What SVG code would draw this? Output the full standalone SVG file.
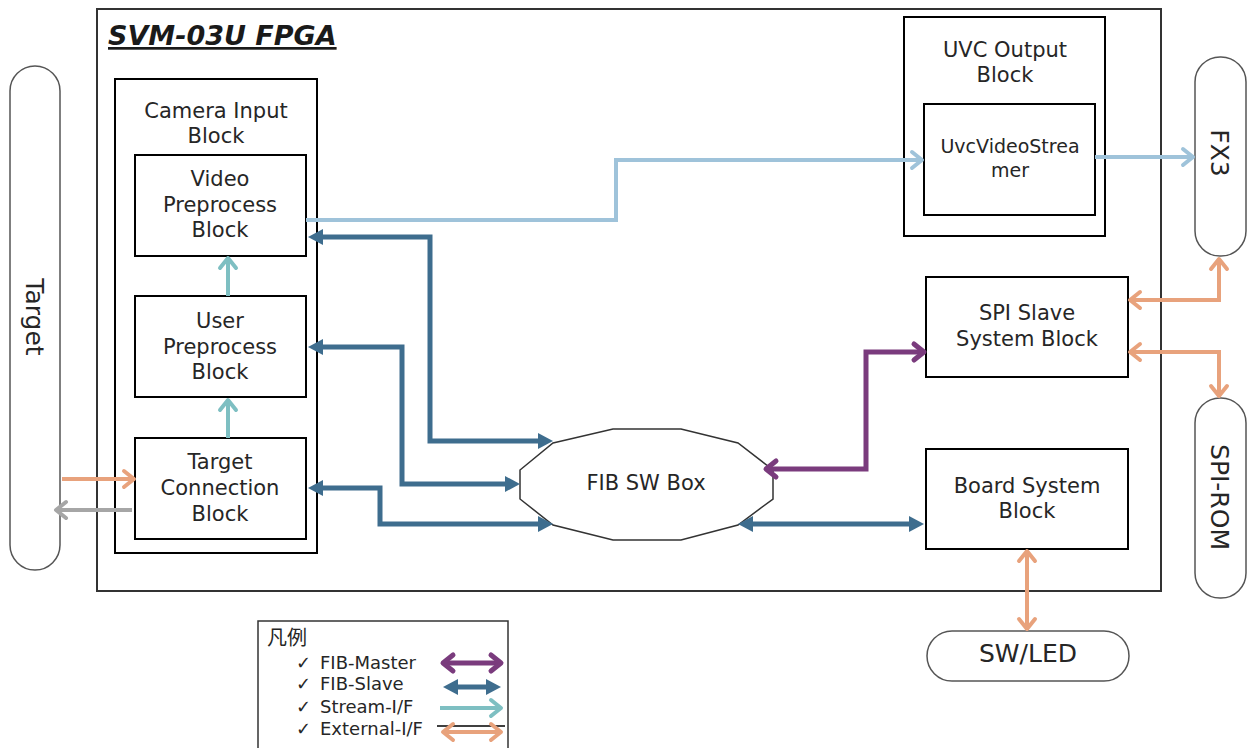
<svg xmlns="http://www.w3.org/2000/svg" width="1250" height="748" viewBox="0 0 1250 748">
  <style>
    .t { font-family: "DejaVu Sans", Verdana, sans-serif; fill: #262626; text-anchor: middle; }
    .b21 { font-size: 21px; }
    .b19 { font-size: 19px; }
    .ext { font-size: 25px; }
    .leg { font-family: "DejaVu Sans", "Noto Sans CJK JP", sans-serif; fill: #262626; font-size: 18px; }
    .legtitle { font-family: "Noto Sans CJK JP", sans-serif; fill: #262626; font-size: 20px; }
    .blk { fill: #fff; stroke: #000; stroke-width: 2; }
    .pill { fill: #fff; stroke: #555; stroke-width: 1.5; }
    .c { fill: none; stroke-linejoin: miter; }
    .slave { stroke: #3e6d8e; stroke-width: 5; marker-start: url(#tri-slave); marker-end: url(#tri-slave); }
    .master { stroke: #7a3b7d; stroke-width: 5; marker-start: url(#chev-master); marker-end: url(#chev-master); }
    .stream { stroke: #7ebfc2; stroke-width: 4; marker-end: url(#chev-stream); }
    .uvc { stroke: #9fc3da; stroke-width: 4; marker-end: url(#chev-uvc); }
    .ext2 { stroke: #e8a27c; stroke-width: 4; marker-start: url(#chev-ext); marker-end: url(#chev-ext); }
    .ext1 { stroke: #e8a27c; stroke-width: 4; marker-end: url(#chev-ext); }
    .gray { stroke: #a6a6a6; stroke-width: 4; marker-end: url(#chev-gray); }
  </style>
  <defs>
    <marker id="tri-slave" viewBox="-8 -9 18 18" refX="0" refY="0" markerWidth="18" markerHeight="18" markerUnits="userSpaceOnUse" orient="auto-start-reverse" overflow="visible">
      <path d="M-7,-8 L8,0 L-7,8 z" fill="#3e6d8e"/>
    </marker>
    <marker id="chev-master" viewBox="-14 -10 16 20" refX="0" refY="0" markerWidth="16" markerHeight="20" markerUnits="userSpaceOnUse" orient="auto-start-reverse" overflow="visible">
      <path d="M-10,-8 L0,0 L-10,8" fill="none" stroke="#7a3b7d" stroke-width="5" stroke-linecap="round" stroke-linejoin="round"/>
    </marker>
    <marker id="chev-stream" viewBox="-14 -10 16 20" refX="0" refY="0" markerWidth="16" markerHeight="20" markerUnits="userSpaceOnUse" orient="auto-start-reverse" overflow="visible">
      <path d="M-10,-8 L0,0 L-10,8" fill="none" stroke="#7ebfc2" stroke-width="4" stroke-linecap="round" stroke-linejoin="round"/>
    </marker>
    <marker id="chev-uvc" viewBox="-14 -10 16 20" refX="0" refY="0" markerWidth="16" markerHeight="20" markerUnits="userSpaceOnUse" orient="auto-start-reverse" overflow="visible">
      <path d="M-10,-8 L0,0 L-10,8" fill="none" stroke="#9fc3da" stroke-width="4" stroke-linecap="round" stroke-linejoin="round"/>
    </marker>
    <marker id="chev-ext" viewBox="-14 -10 16 20" refX="0" refY="0" markerWidth="16" markerHeight="20" markerUnits="userSpaceOnUse" orient="auto-start-reverse" overflow="visible">
      <path d="M-10,-8 L0,0 L-10,8" fill="none" stroke="#e8a27c" stroke-width="4" stroke-linecap="round" stroke-linejoin="round"/>
    </marker>
    <marker id="chev-gray" viewBox="-14 -10 16 20" refX="0" refY="0" markerWidth="16" markerHeight="20" markerUnits="userSpaceOnUse" orient="auto-start-reverse" overflow="visible">
      <path d="M-10,-8 L0,0 L-10,8" fill="none" stroke="#a6a6a6" stroke-width="4" stroke-linecap="round" stroke-linejoin="round"/>
    </marker>
  </defs>

  <rect width="1250" height="748" fill="#fff"/>

  <!-- FPGA boundary -->
  <g id="fpga">
    <rect x="97" y="9" width="1064" height="582" fill="#fff" stroke="#333" stroke-width="2"/>
    <text x="108" y="45" font-family="DejaVu Sans, Verdana, sans-serif" font-size="27" font-weight="bold" font-style="italic" fill="#1a1a1a" text-decoration="underline">SVM-03U FPGA</text>
  </g>

  <!-- external devices -->
  <g id="target">
    <rect class="pill" x="10" y="66" width="50" height="504" rx="25"/>
    <text class="t ext" transform="translate(35,317) rotate(90)" y="9">Target</text>
  </g>
  <g id="fx3">
    <rect class="pill" x="1195" y="57" width="51" height="199" rx="25"/>
    <text class="t ext" transform="translate(1220,153) rotate(90)" y="9">FX3</text>
  </g>
  <g id="spi-rom">
    <rect class="pill" x="1195" y="398" width="51" height="200" rx="25"/>
    <text class="t ext" transform="translate(1220,497) rotate(90)" y="9">SPI-ROM</text>
  </g>
  <g id="sw-led">
    <rect class="pill" x="927" y="631" width="202" height="50" rx="25"/>
    <text class="t ext" x="1028" y="662">SW/LED</text>
  </g>

  <!-- camera input -->
  <g id="camera-input">
    <rect class="blk" x="115" y="79" width="202" height="474"/>
    <text class="t b21" x="216" y="118">Camera Input</text>
    <text class="t b21" x="216" y="143">Block</text>
  </g>
  <g id="video-preprocess">
    <rect class="blk" x="135" y="155" width="171" height="101"/>
    <text class="t b21" x="220" y="186">Video</text>
    <text class="t b21" x="220" y="212">Preprocess</text>
    <text class="t b21" x="220" y="237">Block</text>
  </g>
  <g id="user-preprocess">
    <rect class="blk" x="135" y="296" width="171" height="101"/>
    <text class="t b21" x="220" y="328">User</text>
    <text class="t b21" x="220" y="354">Preprocess</text>
    <text class="t b21" x="220" y="379">Block</text>
  </g>
  <g id="target-connection">
    <rect class="blk" x="135" y="438" width="171" height="101"/>
    <text class="t b21" x="220" y="469">Target</text>
    <text class="t b21" x="220" y="495">Connection</text>
    <text class="t b21" x="220" y="521">Block</text>
  </g>

  <!-- UVC output -->
  <g id="uvc-output">
    <rect class="blk" x="904" y="17" width="201" height="219"/>
    <text class="t b21" x="1005" y="57">UVC Output</text>
    <text class="t b21" x="1005" y="82">Block</text>
  </g>
  <g id="uvc-video-streamer">
    <rect class="blk" x="924" y="104" width="171" height="111"/>
    <text class="t b19" x="1010" y="153">UvcVideoStrea</text>
    <text class="t b19" x="1010" y="177">mer</text>
  </g>

  <g id="spi-slave">
    <rect class="blk" x="926" y="277" width="202" height="100"/>
    <text class="t b21" x="1027" y="320">SPI Slave</text>
    <text class="t b21" x="1027" y="346">System Block</text>
  </g>
  <g id="board-system">
    <rect class="blk" x="926" y="449" width="202" height="100"/>
    <text class="t b21" x="1027" y="493">Board System</text>
    <text class="t b21" x="1027" y="518">Block</text>
  </g>

  <g id="fib-sw-box">
    <polygon points="553,443 613,429 681,429 738,443 773,470 773,499 738,525 681,540 613,540 553,525 520,499 520,470" fill="#fff" stroke="#333" stroke-width="1.5"/>
    <text class="t b21" x="646" y="490">FIB SW Box</text>
  </g>

  <!-- connectors -->
  <g id="connectors">
    <path class="c uvc" d="M306,220 H616 V160 H922"/>
    <path class="c uvc" d="M1095,157 H1193"/>
    <path class="c stream" d="M228,296 V258"/>
    <path class="c stream" d="M228,438 V400"/>
    <path class="c slave" d="M316,237 H430 V441 H545"/>
    <path class="c slave" d="M316,347 H402 V484 H512"/>
    <path class="c slave" d="M316,488 H380 V524 H545"/>
    <path class="c slave" d="M746,524 H916"/>
    <path class="c master" d="M766,469 H866 V352 H924"/>
    <path class="c ext1" d="M62,479 H134"/>
    <path class="c gray" d="M132,510 H56"/>
    <path class="c ext2" d="M1130,300 H1219 V259"/>
    <path class="c ext2" d="M1130,352 H1219 V396"/>
    <path class="c ext2" d="M1027,551 V629"/>
  </g>

  <!-- legend -->
  <g id="legend">
    <rect x="258" y="621" width="250" height="140" fill="#fff" stroke="#333" stroke-width="1.5"/>
    <text class="legtitle" x="267" y="645">凡例</text>
    <text class="leg" x="296" y="669">✓</text>
    <text class="leg" x="320" y="669">FIB-Master</text>
    <text class="leg" x="296" y="690">✓</text>
    <text class="leg" x="320" y="690">FIB-Slave</text>
    <text class="leg" x="296" y="713">✓</text>
    <text class="leg" x="320" y="713">Stream-I/F</text>
    <text class="leg" x="296" y="735">✓</text>
    <text class="leg" x="320" y="735">External-I/F</text>
    <path class="c master" d="M443,663 H501"/>
    <path class="c slave" d="M451,687 H493"/>
    <path class="c stream" d="M440,708 H501"/>
    <path d="M437,726 H505" stroke="#000" stroke-width="1.5"/>
    <path class="c ext2" d="M443,732 H501"/>
  </g>
</svg>
